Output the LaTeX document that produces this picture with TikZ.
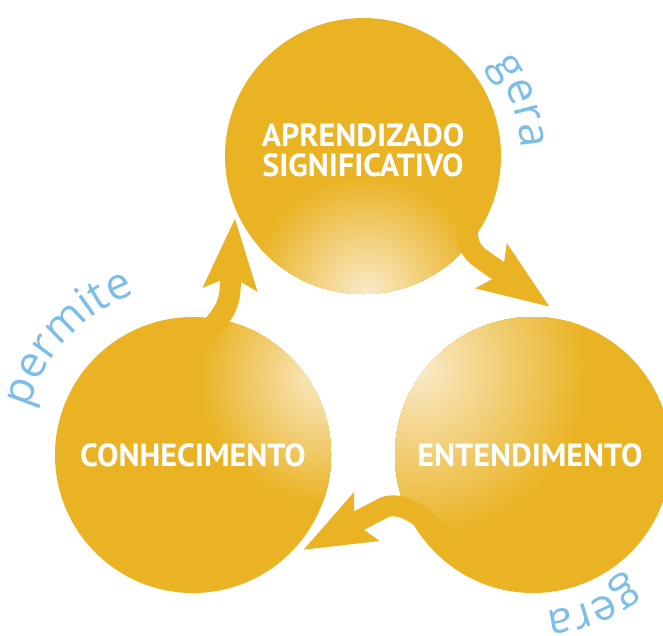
\documentclass[tikz,border=0pt]{standalone}
\usepackage{fontspec}
\setmainfont{PT Sans}
\newfontfamily\lblfont{Open Sans}
\usetikzlibrary{arrows.meta,decorations.text,calc}
\definecolor{gold}{RGB}{234,179,35}
\definecolor{hl}{RGB}{249,233,198}
\definecolor{lblue}{RGB}{125,190,232}
\newcommand\glowspot[3]{%
  \foreach \i [evaluate=\i as \p using 100*\i/40, evaluate=\i as \r using #3*(1-\i/41)] in {0,...,40}
    {\fill[hl!\p!gold] ([shift={(#1,#2)}]path picture bounding box.center) circle[radius=\r pt];}}
\begin{document}
\begin{tikzpicture}[x=1pt,y=-1pt,
  bubble/.style={circle, fill=gold, minimum size=276pt, inner sep=0pt},
  ttl/.style={text=white, font=\bfseries\fontsize{32}{30}\selectfont, align=center, inner sep=0pt},
  flow/.style={draw=gold, line width=21pt, -{Stealth[length=70pt,width=52pt,inset=12pt]}},
  lbl/.style={decorate, decoration={text along path, text align=center, text color=lblue,
     text={|\lblfont\fontsize{44}{44}\selectfont|#1}}}
]
\useasboundingbox (0,0) rectangle (663,635);
% circles with highlights
\node[bubble, path picture={\glowspot{4pt}{-136pt}{118}}] (ap) at (363,156) {};
\node[bubble, path picture={\glowspot{132pt}{77pt}{128}}] (co) at (193,455) {};
\node[bubble, path picture={\glowspot{-113pt}{85pt}{170}}] (en) at (533,455) {};
% connectors
\coordinate (a1) at (480,178);
\coordinate (a2) at (550,307);
\coordinate (b1) at (462,562);
\coordinate (b2) at (303,550);
\coordinate (c1) at (185,365);
\coordinate (c2) at (235,218);
\draw[flow] (a1) .. controls (464,222) and (462,245) .. (480,258) -- (a2);
\draw[flow] (b1) .. controls (435,525) and (408,500) .. (385,507) -- (b2);
\draw[flow] (c1) .. controls (200,330) and (228,322) .. (230,290) -- (c2);
% titles
\node[ttl] (apt) at (363,150) {APRENDIZADO\\SIGNIFICATIVO};
\node[ttl] (cot) at (193,455) {CONHECIMENTO};
\node[ttl] (ent) at (530,455) {ENTENDIMENTO};
% labels
\path[lbl=gera] ($(ap)+(44:158pt)$) arc[start angle=44, end angle=-6, radius=158pt];
\path[lbl=permite] ($(co)+(174:171pt)$) arc[start angle=174, end angle=100, radius=171pt];
\path[lbl=gera] ($(en)+(-43:157pt)$) arc[start angle=-43, end angle=-94, radius=157pt];
\end{tikzpicture}
\end{document}
